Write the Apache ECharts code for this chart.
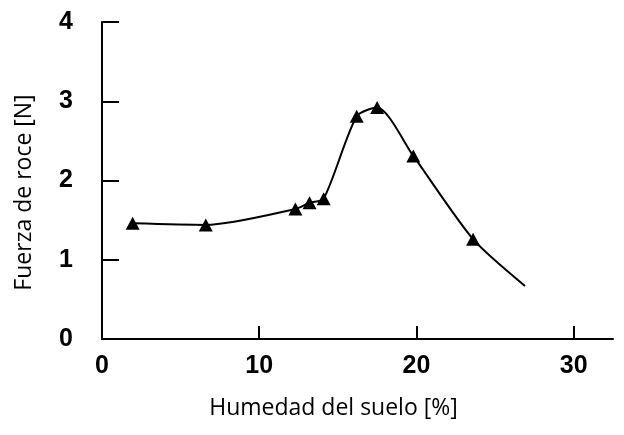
<!DOCTYPE html>
<html><head><meta charset="utf-8">
<script src="https://cdn.jsdelivr.net/npm/echarts@6/dist/echarts.min.js"></script>
<style>html,body{margin:0;padding:0;background:#fff}#c{width:624px;height:435px}</style>
</head><body><div id="c"></div>
<script>
const moisture = [1.95, 6.6, 12.3, 13.2, 14.1, 16.2, 17.5, 19.8, 23.6];
const force = [1.46, 1.44, 1.64, 1.72, 1.77, 2.81, 2.92, 2.31, 1.26];
const curveEnd = [26.9, 0.67];
const xTicks = [0, 10, 20, 30];
const yTicks = [0, 1, 2, 3, 4];
const xTitle = 'Humedad del suelo [%]';
const yTitle = 'Fuerza de roce [N]';

const pts = moisture.map((x, i) => [x, force[i]]);
const lineData = pts.concat([{value: curveEnd, symbol: 'none'}]);

const chart = echarts.init(document.getElementById('c'));
const lblStyle = {color: '#000', fontFamily: 'Liberation Sans', fontWeight: 'bold', fontSize: 25};
chart.setOption({
  animation: false,
  backgroundColor: '#fff',
  grid: {left: 102, right: 11, top: 22, bottom: 96},
  xAxis: {
    type: 'value', min: 0, max: 32.5, interval: 10,
    splitLine: {show: false},
    axisLine: {lineStyle: {color: '#000', width: 2}},
    axisTick: {inside: true, length: 13, lineStyle: {color: '#000', width: 2}, customValues: [10, 20, 30]},
    axisLabel: Object.assign({margin: 15, customValues: xTicks}, lblStyle),
    name: xTitle, nameLocation: 'middle', nameGap: 58,
    nameTextStyle: {color: '#000', fontFamily: 'Open Sans', fontSize: 23, padding: [0, 48, 0, 0]}
  },
  yAxis: {
    type: 'value', min: 0, max: 4, interval: 1,
    splitLine: {show: false},
    axisLine: {lineStyle: {color: '#000', width: 2}},
    axisTick: {inside: true, length: 17, lineStyle: {color: '#000', width: 2}, customValues: [1, 2, 3, 4]},
    axisLabel: Object.assign({margin: 29, customValues: yTicks}, lblStyle),
    name: yTitle, nameLocation: 'middle', nameGap: 66,
    nameTextStyle: {color: '#000', fontFamily: 'Open Sans', fontSize: 23, padding: [0, 24, 0, 0]}
  },
  series: [{
    type: 'line', data: lineData, smooth: 0.25,
    symbol: 'triangle', symbolSize: [14, 13],
    lineStyle: {color: '#000', width: 2},
    itemStyle: {color: '#000'}
  }]
});
</script></body></html>
